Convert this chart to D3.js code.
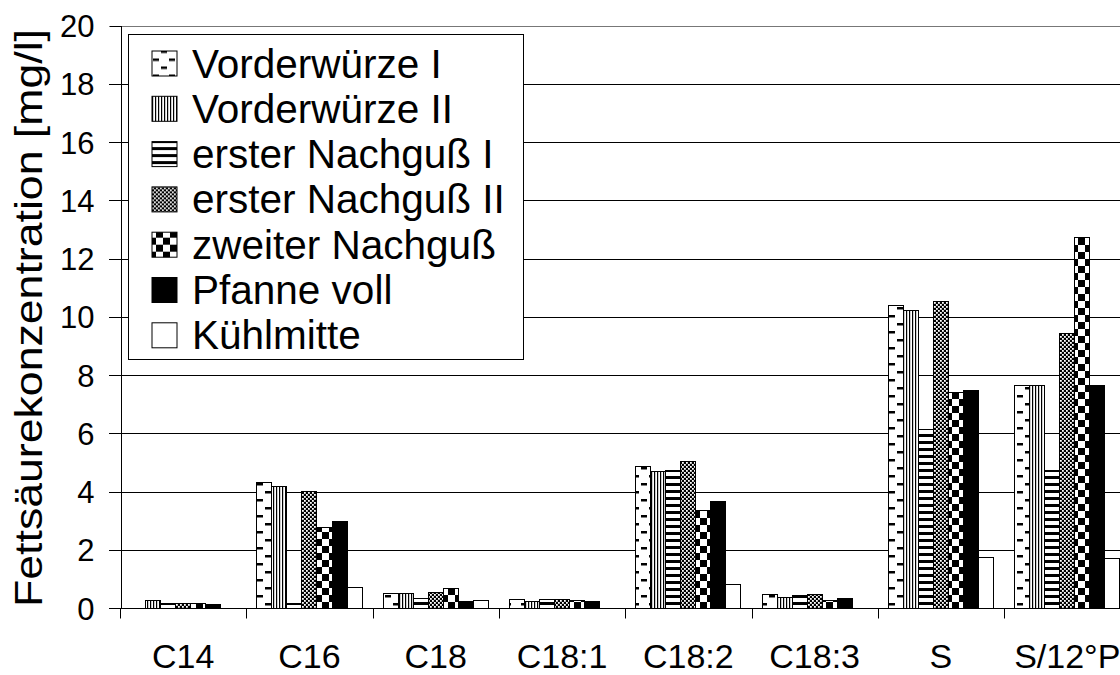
<!DOCTYPE html>
<html>
<head>
<meta charset="utf-8">
<script src="https://cdn.jsdelivr.net/npm/d3@7"></script>
<style>
    body { margin: 0; background: #fff; }
    text { font-family: "Liberation Sans", Arial, sans-serif; fill: #000; }
    .grid line { stroke: #000; stroke-width: 1; shape-rendering: crispEdges; }
    .bar { stroke: #000; stroke-width: 1; shape-rendering: crispEdges; }
</style>
</head>
<body>
<script>
(function(){

    //chart data
    var categories = ["C14", "C16", "C18", "C18:1", "C18:2", "C18:3", "S", "S/12°P"];
    var seriesNames = ["Vorderwürze I", "Vorderwürze II", "erster Nachguß I", "erster Nachguß II", "zweiter Nachguß", "Pfanne voll", "Kühlmitte"];
    var vorderwuerzeI  = [0.00, 4.30, 0.51, 0.30, 4.85, 0.47, 10.40, 7.64];
    var vorderwuerzeII = [0.26, 4.17, 0.51, 0.24, 4.68, 0.37, 10.20, 7.64];
    var nachgussI      = [0.17, 0.16, 0.33, 0.30, 4.73, 0.44, 6.14, 4.73];
    var nachgussII     = [0.17, 4.01, 0.54, 0.30, 5.02, 0.47, 10.54, 9.41];
    var zweiterNachguss = [0.14, 2.75, 0.68, 0.27, 3.36, 0.25, 7.39, 12.72];
    var pfanneVoll     = [0.13, 2.98, 0.22, 0.22, 3.67, 0.31, 7.48, 7.64];
    var kuehlmitte     = [0.00, 0.72, 0.26, 0.00, 0.80, 0.00, 1.75, 1.71];
    var yTicks = [0, 2, 4, 6, 8, 10, 12, 14, 16, 18, 20];
    var yLabel = "Fettsäurekonzentration [mg/l]";

    var seriesValues = [vorderwuerzeI, vorderwuerzeII, nachgussI, nachgussII, zweiterNachguss, pfanneVoll, kuehlmitte];
    var fills = ["url(#pDash)", "url(#pVert)", "url(#pHoriz)", "url(#pCross)", "url(#pCheck)", "#000", "#fff"];

    window.onload = setChart();

    function setChart(){

        var width = 1120,
            height = 675;

        var svg = d3.select("body")
            .append("svg")
            .attr("width", width)
            .attr("height", height);

        makePatterns(svg);

        //plot area runs past the right edge of the picture
        var x = d3.scaleBand()
            .domain(categories)
            .range([120, 1130.4]);

        var xInner = d3.scaleBand()
            .domain(seriesNames)
            .range([0, x.bandwidth()])
            .paddingOuter(0.7);

        var y = d3.scaleLinear()
            .domain([0, 20])
            .range([608, 25.5]);

        //horizontal grid lines
        svg.append("g")
            .attr("class", "grid")
            .selectAll("line")
            .data(yTicks)
            .enter()
            .append("line")
            .attr("x1", 109)
            .attr("x2", 1130)
            .attr("y1", function(d){ return Math.round(y(d)) + 0.5; })
            .attr("y2", function(d){ return Math.round(y(d)) + 0.5; })
            .style("stroke", function(d){ return d === 20 ? "#777" : null; });

        //bars, one group per category
        var rows = [];
        categories.forEach(function(c, ci){
            seriesValues.forEach(function(vals, si){
                rows.push({cat: c, series: seriesNames[si], value: vals[ci], idx: si});
            });
        });

        svg.append("g")
            .selectAll("rect")
            .data(rows.filter(function(d){ return d.value > 0; }))
            .enter()
            .append("rect")
            .attr("class", "bar")
            .attr("x", function(d){ return x(d.cat) + xInner(d.series); })
            .attr("y", function(d){ return y(d.value); })
            .attr("width", xInner.bandwidth())
            .attr("height", function(d){ return y(0) - y(d.value); })
            .style("fill", function(d){ return fills[d.idx]; });

        //y axis
        var yAxis = d3.axisLeft(y)
            .tickValues(yTicks)
            .tickSize(11)
            .tickPadding(15)
            .tickFormat(d3.format("d"));

        var gy = svg.append("g")
            .attr("transform", "translate(120.5,0)")
            .call(yAxis);
        gy.selectAll("text")
            .style("font-size", "31px")
            .attr("dy", "0.36em");
        gy.selectAll("path, line").attr("stroke", "#000").style("shape-rendering", "crispEdges");

        //x axis with ticks between categories
        var gx = svg.append("g")
            .attr("transform", "translate(0," + (Math.round(y(0)) + 0.5) + ")");
        gx.append("line")
            .attr("x1", 120).attr("x2", 1130)
            .attr("stroke", "#000");
        gx.selectAll(".xtick")
            .data(categories.concat(["end"]))
            .enter()
            .append("line")
            .attr("class", "xtick")
            .attr("x1", function(d, i){ return Math.round(120 + i * x.step()) + 0.5; })
            .attr("x2", function(d, i){ return Math.round(120 + i * x.step()) + 0.5; })
            .attr("y1", 0)
            .attr("y2", 10)
            .attr("stroke", "#000");
        gx.selectAll(".xlabel")
            .data(categories)
            .enter()
            .append("text")
            .attr("class", "xlabel")
            .attr("x", function(d){ return x(d) + x.bandwidth() / 2; })
            .attr("y", 59.5)
            .attr("text-anchor", "middle")
            .style("font-size", "34px")
            .text(function(d){ return d; });

        //y axis title, stretched over the whole axis as in the picture
        svg.append("text")
            .attr("transform", "translate(42,318) rotate(-90)")
            .attr("text-anchor", "middle")
            .attr("textLength", 578)
            .attr("lengthAdjust", "spacingAndGlyphs")
            .style("font-size", "38px")
            .text(yLabel);

        setLegend(svg);
    };

    function setLegend(svg){

        var legend = svg.append("g")
            .attr("transform", "translate(128,34)");

        legend.append("rect")
            .attr("x", 0.5)
            .attr("y", 0.5)
            .attr("width", 395)
            .attr("height", 325)
            .attr("fill", "#fff")
            .attr("stroke", "#000");

        var item = legend.selectAll(".item")
            .data(seriesNames)
            .enter()
            .append("g")
            .attr("class", "item")
            .attr("transform", function(d, i){ return "translate(0," + (29.5 + i * 45.3) + ")"; });

        item.append("rect")
            .attr("x", 24)
            .attr("y", -12.5)
            .attr("width", 25)
            .attr("height", 25)
            .attr("stroke", "#000")
            .style("fill", function(d, i){ return fills[i]; });

        item.append("text")
            .attr("x", 64)
            .attr("y", 14)
            .style("font-size", "40.5px")
            .text(function(d){ return d; });
    };

    //black and white fill patterns of the series
    function makePatterns(svg){
        var defs = svg.append("defs");

        var dash = defs.append("pattern")
            .attr("id", "pDash")
            .attr("patternUnits", "userSpaceOnUse")
            .attr("width", 16).attr("height", 16);
        dash.append("rect").attr("width", 16).attr("height", 16).attr("fill", "#fff");
        dash.append("rect").attr("x", 1).attr("y", 3).attr("width", 6).attr("height", 2.5).attr("fill", "#000");
        dash.append("rect").attr("x", 9).attr("y", 11).attr("width", 6).attr("height", 2.5).attr("fill", "#000");

        var vert = defs.append("pattern")
            .attr("id", "pVert")
            .attr("patternUnits", "userSpaceOnUse")
            .attr("width", 3).attr("height", 3);
        vert.append("rect").attr("width", 3).attr("height", 3).attr("fill", "#fff");
        vert.append("rect").attr("width", 1.2).attr("height", 3).attr("fill", "#000");

        var horiz = defs.append("pattern")
            .attr("id", "pHoriz")
            .attr("patternUnits", "userSpaceOnUse")
            .attr("width", 8).attr("height", 7);
        horiz.append("rect").attr("width", 8).attr("height", 7).attr("fill", "#fff");
        horiz.append("rect").attr("width", 8).attr("height", 3).attr("fill", "#000");

        var cross = defs.append("pattern")
            .attr("id", "pCross")
            .attr("patternUnits", "userSpaceOnUse")
            .attr("width", 4).attr("height", 4);
        cross.append("rect").attr("width", 4).attr("height", 4).attr("fill", "#000");
        cross.append("rect").attr("x", 0).attr("y", 0).attr("width", 1.8).attr("height", 1.8).attr("fill", "#fff");
        cross.append("rect").attr("x", 2).attr("y", 2).attr("width", 1.8).attr("height", 1.8).attr("fill", "#fff");

        var check = defs.append("pattern")
            .attr("id", "pCheck")
            .attr("patternUnits", "userSpaceOnUse")
            .attr("width", 14).attr("height", 14);
        check.append("rect").attr("width", 14).attr("height", 14).attr("fill", "#fff");
        check.append("rect").attr("width", 7).attr("height", 7).attr("fill", "#000");
        check.append("rect").attr("x", 7).attr("y", 7).attr("width", 7).attr("height", 7).attr("fill", "#000");
    };
})();
</script>
</body>
</html>
